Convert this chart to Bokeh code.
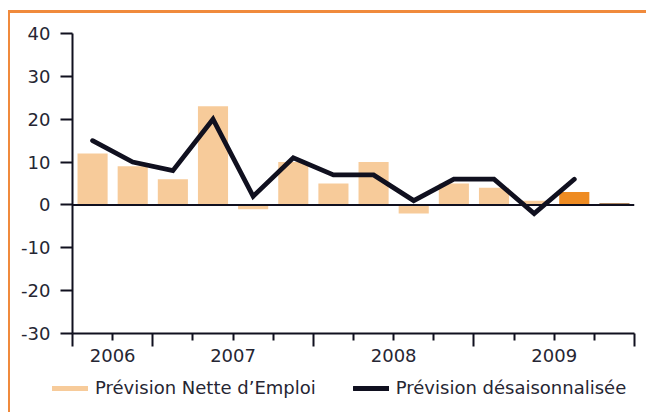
from bokeh.plotting import figure
from bokeh.layouts import column
from bokeh.models import (Range1d, FixedTicker, LinearAxis, Span, Legend, LegendItem,
                          ColumnDataSource)
from bokeh.embed import file_html
from bokeh.resources import INLINE

# ---- data ----
quarter_years = ["2006", "2006",
                 "2007", "2007", "2007", "2007",
                 "2008", "2008", "2008", "2008",
                 "2009", "2009", "2009", "2009"]
prevision_nette = [12, 9, 6, 23, -1, 10, 5, 10, -2, 5, 4, 1, 3, 0.4]
prevision_desaisonnalisee = [15, 10, 8, 20, 2, 11, 7, 7, 1, 6, 6, -2, 6]
y_ticks = [-30, -20, -10, 0, 10, 20, 30, 40]
series_names = ["Prévision Nette d’Emploi", "Prévision désaisonnalisée"]

# ---- styles ----
PEACH = "#F7CB9A"
ORANGE = "#EE8B22"
BROWN = "#8C5A2A"
DARK = "#10101F"
TEXT = "#262633"
FRAME = "#F08A3C"
bar_colors = [PEACH] * 12 + [ORANGE, BROWN]
FONT = "DejaVu Sans"

n = len(quarter_years)
xc = [i + 0.5 for i in range(n)]

# year boundaries and centers derived from quarter list
bounds = [0] + [i for i in range(1, n) if quarter_years[i] != quarter_years[i - 1]] + [n]
year_centers = [(bounds[k] + bounds[k + 1]) / 2 for k in range(len(bounds) - 1)]
year_names = [quarter_years[bounds[k]] for k in range(len(bounds) - 1)]
minor = [i for i in range(n + 1) if i not in bounds]

W = 646
H_MAIN = 372
H_LEG = 40

p = figure(width=W, height=H_MAIN, output_backend="svg", toolbar_location=None,
           x_range=Range1d(0, n), y_range=Range1d(y_ticks[0], y_ticks[-1]),
           x_axis_location=None, y_axis_location=None,
           min_border_left=72, min_border_right=12, min_border_top=33, min_border_bottom=39)
p.frame_align = False
p.outline_line_color = None
p.xgrid.visible = False
p.ygrid.visible = False
p.background_fill_color = "white"
p.border_fill_color = None

# y axis
yaxis = LinearAxis(ticker=FixedTicker(ticks=y_ticks, minor_ticks=[]))
yaxis.axis_line_color = DARK
yaxis.axis_line_width = 2
yaxis.major_tick_line_color = DARK
yaxis.major_tick_line_width = 2
yaxis.major_tick_in = 0
yaxis.major_tick_out = 12
yaxis.minor_tick_line_color = None
yaxis.major_label_standoff = 10
yaxis.major_label_text_font = FONT
yaxis.major_label_text_font_size = "18px"
yaxis.major_label_text_color = TEXT
yaxis.major_label_overrides = {t: str(t) for t in y_ticks}
p.add_layout(yaxis, "left")

# x axis with ticks
xticks_axis = LinearAxis(ticker=FixedTicker(ticks=bounds, minor_ticks=minor))
xticks_axis.axis_line_color = DARK
xticks_axis.axis_line_width = 2
xticks_axis.major_tick_line_color = DARK
xticks_axis.major_tick_line_width = 2
xticks_axis.minor_tick_line_color = DARK
xticks_axis.minor_tick_line_width = 2
xticks_axis.major_tick_in = 0
xticks_axis.major_tick_out = 13
xticks_axis.minor_tick_in = 0
xticks_axis.minor_tick_out = 7
xticks_axis.major_label_overrides = {b: "" for b in bounds}
xticks_axis.major_label_text_font_size = "1px"
xticks_axis.major_label_standoff = 0
p.add_layout(xticks_axis, "below")

# x axis with year labels
xlab_axis = LinearAxis(ticker=FixedTicker(ticks=year_centers, minor_ticks=[]))
xlab_axis.axis_line_color = None
xlab_axis.major_tick_line_color = None
xlab_axis.minor_tick_line_color = None
xlab_axis.major_tick_out = 0
xlab_axis.major_tick_in = 0
xlab_axis.major_label_overrides = {c: y for c, y in zip(year_centers, year_names)}
xlab_axis.major_label_standoff = 2
xlab_axis.major_label_text_font = FONT
xlab_axis.major_label_text_font_size = "18px"
xlab_axis.major_label_text_color = TEXT
p.add_layout(xlab_axis, "below")

# bars
src = ColumnDataSource(dict(x=xc, top=prevision_nette, color=bar_colors))
p.vbar(x="x", top="top", bottom=0, width=0.75, color="color", source=src, line_color=None)

# zero line
p.add_layout(Span(location=0, dimension="width", line_color=DARK, line_width=2))

# line
p.line(x=xc[:len(prevision_desaisonnalisee)], y=prevision_desaisonnalisee,
       line_color=DARK, line_width=4.8, line_join="miter", line_cap="round")

# ---- legend strip ----
nan = float("nan")
lf = figure(width=W, height=H_LEG, output_backend="svg", toolbar_location=None,
            x_range=Range1d(0, 1), y_range=Range1d(0, 1),
            x_axis_location=None, y_axis_location=None, min_border=0)
lf.frame_align = False
lf.outline_line_color = None
lf.xgrid.visible = False
lf.ygrid.visible = False
lf.background_fill_color = None
lf.border_fill_color = None
leg_bar = lf.line(x=[nan], y=[nan], line_color=PEACH, line_width=5, line_cap="round")
leg_line = lf.line(x=[nan], y=[nan], line_color=DARK, line_width=4.8, line_cap="round")
legend = Legend(items=[LegendItem(label=series_names[0], renderers=[leg_bar], index=0),
                       LegendItem(label=series_names[1], renderers=[leg_line], index=0)],
                location=(52, 14), orientation="horizontal",
                glyph_width=36, glyph_height=20, label_standoff=7, spacing=37,
                padding=0, margin=0, border_line_color=None,
                background_fill_color=None, background_fill_alpha=0,
                label_text_font=FONT, label_text_font_size="18px", label_text_color=TEXT,
                label_height=20)
lf.add_layout(legend)

layout = column(p, lf, spacing=0, styles={
    "background": ("linear-gradient(%s,%s) 8px 10px / 100%% 3px no-repeat, "
                   "linear-gradient(%s,%s) 8px 10px / 2px 100%% no-repeat, white")
                  % (FRAME, FRAME, FRAME, FRAME)
})

open("out.html", "w").write(file_html(layout, INLINE))
